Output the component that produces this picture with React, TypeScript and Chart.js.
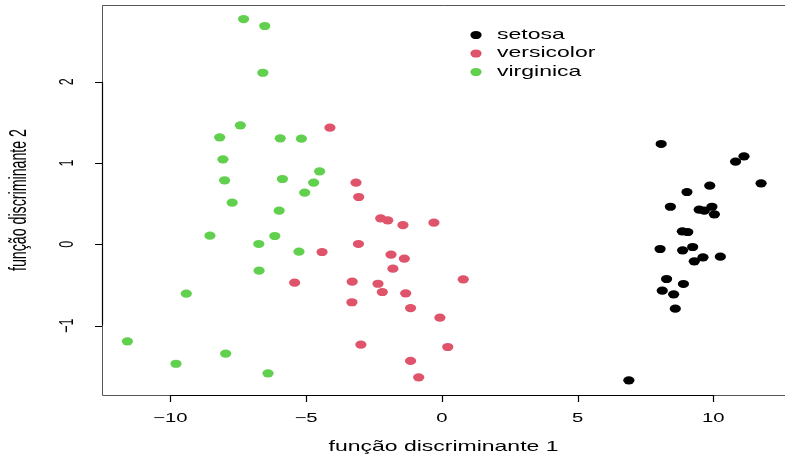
import React, { useEffect, useRef } from "react";
import { Chart, registerables } from "chart.js";

Chart.register(...registerables);

const seriesNames = ["setosa", "versicolor", "virginica"];
const seriesColors = ["#000000", "#DF536B", "#61D04F"];

const setosaX = [8.08, 11.13, 10.82, 11.76, 9.87, 9.03, 8.42, 9.48, 9.67, 9.95, 10.04, 8.86, 9.06, 8.04, 8.87, 9.24, 9.62, 9.30, 10.26, 8.28, 8.90, 8.12, 8.54, 8.60, 6.89];
const setosaY = [1.234, 1.082, 1.016, 0.750, 0.721, 0.643, 0.462, 0.426, 0.413, 0.462, 0.369, 0.160, 0.151, -0.058, -0.074, -0.033, -0.160, -0.209, -0.152, -0.427, -0.488, -0.571, -0.615, -0.792, -1.673];

const versicolorX = [-4.12, -3.16, -3.06, -2.25, -1.99, -1.43, -0.29, -3.07, -4.41, -1.87, -1.38, -1.80, -5.42, -3.30, -2.35, 0.79, -2.19, -1.33, -3.31, -1.15, -0.07, -2.98, 0.22, -1.15, -0.85];
const versicolorY = [1.434, 0.758, 0.582, 0.320, 0.295, 0.237, 0.266, 0.004, -0.095, -0.128, -0.177, -0.300, -0.472, -0.460, -0.485, -0.431, -0.587, -0.603, -0.713, -0.784, -0.903, -1.235, -1.263, -1.435, -1.636];

const virginicaX = [-7.30, -6.52, -6.59, -7.42, -8.18, -5.95, -5.17, -8.06, -8.00, -5.87, -4.50, -4.72, -5.05, -7.72, -5.99, -8.54, -6.74, -6.15, -5.26, -6.73, -9.41, -11.58, -7.96, -9.79, -6.40];
const virginicaY = [2.770, 2.685, 2.110, 1.464, 1.316, 1.304, 1.299, 1.045, 0.787, 0.803, 0.898, 0.758, 0.635, 0.512, 0.413, 0.106, 0.004, 0.102, -0.091, -0.325, -0.607, -1.193, -1.345, -1.469, -1.587];

const xTicks = [-10, -5, 0, 5, 10];
const yTicks = [-1, 0, 1, 2];

const xTitle = "função discriminante 1";
const yTitle = "função discriminante 2";

const X_MIN = -12.515;
const X_MAX = 12.641;
const Y_MIN = -1.8536;
const Y_MAX = 2.9434;

const FONT = '"Liberation Sans", Arial, Helvetica, sans-serif';
const STRETCH = 1.62;
const RX = 5.6;
const RY = 4.1;

function fmt(v: number): string {
  return v < 0 ? "\u2212" + Math.abs(v) : String(v);
}

function drawText(
  ctx: CanvasRenderingContext2D,
  text: string,
  x: number,
  y: number,
  size: number,
  rotated: boolean,
  align: CanvasTextAlign = "center"
) {
  ctx.save();
  ctx.translate(x, y);
  if (rotated) {
    ctx.rotate(-Math.PI / 2);
    ctx.scale(1, STRETCH);
  } else {
    ctx.scale(STRETCH, 1);
  }
  ctx.font = `${size}px ${FONT}`;
  ctx.textAlign = align;
  ctx.textBaseline = "middle";
  ctx.fillStyle = "#000";
  ctx.fillText(text, 0, 0);
  ctx.restore();
}

function dot(ctx: CanvasRenderingContext2D, x: number, y: number, color: string) {
  ctx.fillStyle = color;
  ctx.beginPath();
  ctx.ellipse(x, y, RX, RY, 0, 0, Math.PI * 2);
  ctx.fill();
}

const rPlotPlugin = {
  id: "rPlot",
  afterDatasetsDraw(chart: any) {
    const ctx: CanvasRenderingContext2D = chart.ctx;
    ctx.save();
    chart.data.datasets.forEach((ds: any, i: number) => {
      const meta = chart.getDatasetMeta(i);
      meta.data.forEach((el: any) => dot(ctx, el.x, el.y, ds.backgroundColor));
    });
    ctx.restore();
  },
  afterDraw(chart: any) {
    const ctx: CanvasRenderingContext2D = chart.ctx;
    const xs = chart.scales.x;
    const ys = chart.scales.y;
    const a = chart.chartArea;
    ctx.save();
    // box
    ctx.strokeStyle = "#555";
    ctx.lineWidth = 1;
    ctx.beginPath();
    ctx.moveTo(790, a.top + 0.5);
    ctx.lineTo(a.left + 0.5, a.top + 0.5);
    ctx.lineTo(a.left + 0.5, a.bottom + 0.5);
    ctx.lineTo(790, a.bottom + 0.5);
    ctx.stroke();

    // x axis
    ctx.strokeStyle = "#000";
    ctx.lineWidth = 1.2;
    const x0 = xs.getPixelForValue(xTicks[0]);
    const x1 = xs.getPixelForValue(xTicks[xTicks.length - 1]);
    ctx.beginPath();
    ctx.moveTo(x0, a.bottom + 0.5);
    ctx.lineTo(x1, a.bottom + 0.5);
    for (const t of xTicks) {
      const px = Math.round(xs.getPixelForValue(t)) + 0.5;
      ctx.moveTo(px, a.bottom);
      ctx.lineTo(px, a.bottom + 7);
    }
    ctx.stroke();
    for (const t of xTicks) {
      drawText(ctx, fmt(t), xs.getPixelForValue(t), a.bottom + 24, 12.5, false);
    }

    // y axis
    const y0 = ys.getPixelForValue(yTicks[0]);
    const y1 = ys.getPixelForValue(yTicks[yTicks.length - 1]);
    ctx.beginPath();
    ctx.moveTo(a.left + 0.5, y0);
    ctx.lineTo(a.left + 0.5, y1);
    for (const t of yTicks) {
      const py = Math.round(ys.getPixelForValue(t)) + 0.5;
      ctx.moveTo(a.left, py);
      ctx.lineTo(a.left - 7, py);
    }
    ctx.stroke();
    for (const t of yTicks) {
      drawText(ctx, fmt(t), a.left - 35, ys.getPixelForValue(t), 12.5, true);
    }

    // titles
    drawText(ctx, xTitle, (a.left + a.right) / 2, a.bottom + 52, 14.2, false);
    drawText(ctx, yTitle, 20, (a.top + a.bottom) / 2, 14.2, true);

    // legend
    const lx = 476;
    const ly = 35;
    const step = 18.5;
    chart.data.datasets.forEach((ds: any, i: number) => {
      dot(ctx, lx, ly + i * step, ds.backgroundColor);
      drawText(ctx, ds.label, lx + 21, ly + i * step, 14.2, false, "left");
    });
    ctx.restore();
  },
};

function toPoints(xs: number[], ys: number[]) {
  return xs.map((x, i) => ({ x, y: ys[i] }));
}

export default function App() {
  const ref = useRef<HTMLCanvasElement | null>(null);
  useEffect(() => {
    document.body.style.margin = "0";
    const canvas = ref.current!;
    const data = [
      toPoints(setosaX, setosaY),
      toPoints(versicolorX, versicolorY),
      toPoints(virginicaX, virginicaY),
    ];
    const chart = new Chart(canvas, {
      type: "scatter",
      data: {
        datasets: seriesNames.map((name, i) => ({
          label: name,
          data: data[i],
          backgroundColor: seriesColors[i],
          borderColor: seriesColors[i],
          pointRadius: 0,
          pointHoverRadius: 0,
        })),
      },
      options: {
        responsive: false,
        animation: false,
        events: [],
        layout: { padding: { left: 102, top: 5, right: 0, bottom: 62 } },
        plugins: { legend: { display: false }, tooltip: { enabled: false } },
        scales: {
          x: { type: "linear", display: false, min: X_MIN, max: X_MAX },
          y: { type: "linear", display: false, min: Y_MIN, max: Y_MAX },
        },
      },
      plugins: [rPlotPlugin],
    });
    return () => chart.destroy();
  }, []);
  return (
    <div style={{ position: "absolute", left: 0, top: 0, width: 785, height: 457, background: "#fff" }}>
      <canvas ref={ref} width={785} height={457} />
    </div>
  );
}
